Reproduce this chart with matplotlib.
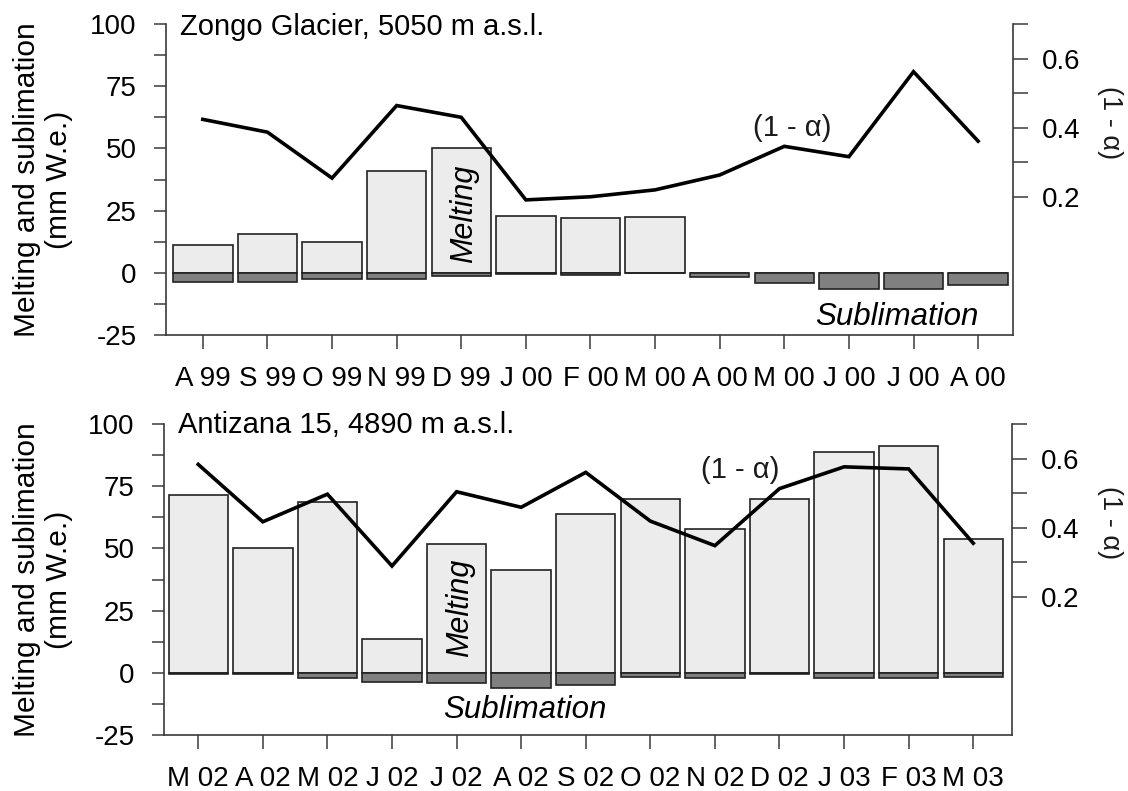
import numpy as np
import matplotlib
matplotlib.use("Agg")
import matplotlib.pyplot as plt

plt.rcParams['font.family'] = ['Liberation Sans', 'DejaVu Sans']

# --- Zongo Glacier (top panel) ---
zongo_months = ["A 99", "S 99", "O 99", "N 99", "D 99", "J 00", "F 00",
                "M 00", "A 00", "M 00", "J 00", "J 00", "A 00"]
zongo_melt = [11, 15.5, 12.5, 41, 50, 23, 22, 22.5, 0, 0, 0, 0, 0]
zongo_subl = [-3.8, -3.8, -2.4, -2.4, -1.1, -0.5, -1.0, 0, -1.7, -4.0, -6.7, -6.7, -4.8]
zongo_albedo = [0.424, 0.387, 0.254, 0.464, 0.43, 0.191, 0.20, 0.22,
                0.263, 0.346, 0.316, 0.562, 0.361]

# --- Antizana 15 (bottom panel) ---
antiz_months = ["M 02", "A 02", "M 02", "J 02", "J 02", "A 02", "S 02",
                "O 02", "N 02", "D 02", "J 03", "F 03", "M 03"]
antiz_melt = [71.5, 50.2, 68.5, 13.5, 51.8, 41.4, 63.9, 69.8, 57.8, 69.8, 88.6, 91, 53.7]
antiz_subl = [-0.5, -0.5, -1.9, -3.7, -4.3, -6.1, -4.8, -1.5, -2.0, -0.5, -2.0, -2.0, -1.5]
antiz_albedo = [0.583, 0.417, 0.497, 0.289, 0.504, 0.459, 0.56, 0.419,
                0.348, 0.513, 0.576, 0.57, 0.355]

W, H = 1128, 791
fig = plt.figure(figsize=(W / 100, H / 100), dpi=100)

spine_col = '#3a3a3a'
melt_col = '#ececec'
subl_col = '#808080'
edge_col = '#222222'


def panel(rect, months, melt, subl, albedo, xlim, title, title_xy,
          alpha_xy, melt_xy, subl_xy):
    ax = fig.add_axes(rect)
    x = np.arange(len(months))
    ax.bar(x, melt, width=0.92, color=melt_col, edgecolor=edge_col, linewidth=1.2, zorder=2)
    ax.bar(x, subl, width=0.92, color=subl_col, edgecolor=edge_col, linewidth=1.2, zorder=2)
    ax.set_xlim(*xlim)
    ax.set_ylim(-25, 100)
    yt = np.arange(-25, 100.1, 12.5)
    ax.set_yticks(yt)
    ax.set_yticklabels([("%d" % v if v % 25 == 0 else "") for v in yt])
    ax.set_xticks(x)
    ax.set_xticklabels(months)
    ax.tick_params(axis='y', direction='out', length=9, width=1.1, color=spine_col,
                   labelsize=20, pad=12)
    ax.tick_params(axis='x', direction='out', length=10, width=1.1, color=spine_col,
                   labelsize=20, pad=12)
    for s in ['top', 'right']:
        ax.spines[s].set_visible(False)
    for s in ['left', 'bottom']:
        ax.spines[s].set_color(spine_col)
        ax.spines[s].set_linewidth(1.2)

    ax2 = ax.twinx()
    ax2.plot(x, albedo, color='black', linewidth=2.6, solid_joinstyle='miter')
    ax2.set_ylim(-0.2, 0.7)
    ax2.set_yticks(np.arange(0.2, 0.71, 0.1))
    ax2.set_yticklabels(["0.2", "", "0.4", "", "0.6", ""])
    ax2.tick_params(axis='y', direction='out', length=11, width=1.1, color=spine_col,
                    labelsize=20, pad=10)
    for s in ['top', 'left', 'bottom']:
        ax2.spines[s].set_visible(False)
    ax2.spines['right'].set_color(spine_col)
    ax2.spines['right'].set_linewidth(1.2)

    ax.text(title_xy[0], title_xy[1], title, fontsize=21, ha='left', va='center')
    ax2.text(alpha_xy[0], alpha_xy[1], "(1 - \u03b1)", fontsize=21, ha='center',
             va='center', color='#1a1a1a')
    ax.text(melt_xy[0], melt_xy[1], "Melting", fontsize=22, style='italic',
            rotation=90, ha='center', va='center', zorder=3)
    ax.text(subl_xy[0], subl_xy[1], "Sublimation", fontsize=22.5, style='italic',
            ha='center', va='center')
    return ax, ax2


panel([166 / W, 1 - 335 / H, (1013 - 166) / W, 311 / H],
      zongo_months, zongo_melt, zongo_subl, zongo_albedo, (-0.57, 12.54),
      "Zongo Glacier, 5050 m a.s.l.", (-0.36, 98.8),
      (9.12, 0.40), (4.04, 23.7), (10.74, -17.8))

panel([164 / W, 1 - 735 / H, (1012 - 164) / W, 311 / H],
      antiz_months, antiz_melt, antiz_subl, antiz_albedo, (-0.53, 12.6),
      "Antizana 15, 4890 m a.s.l.", (-0.31, 99.6),
      (8.39, 0.567), (4.06, 26), (5.05, -14.9))

for yc in (180, 580):
    fig.text(43 / W, 1 - yc / H, "Melting and sublimation\n(mm W.e.)", rotation=90,
             ha='center', va='center', fontsize=21.5, multialignment='center',
             linespacing=1.2)
for yc in (123, 523):
    fig.text(1110 / W, 1 - yc / H, "(1 - \u03b1)", rotation=270, ha='center',
             va='center', fontsize=19.5, color='#1a1a1a')

fig.savefig("out.png", dpi=100)
